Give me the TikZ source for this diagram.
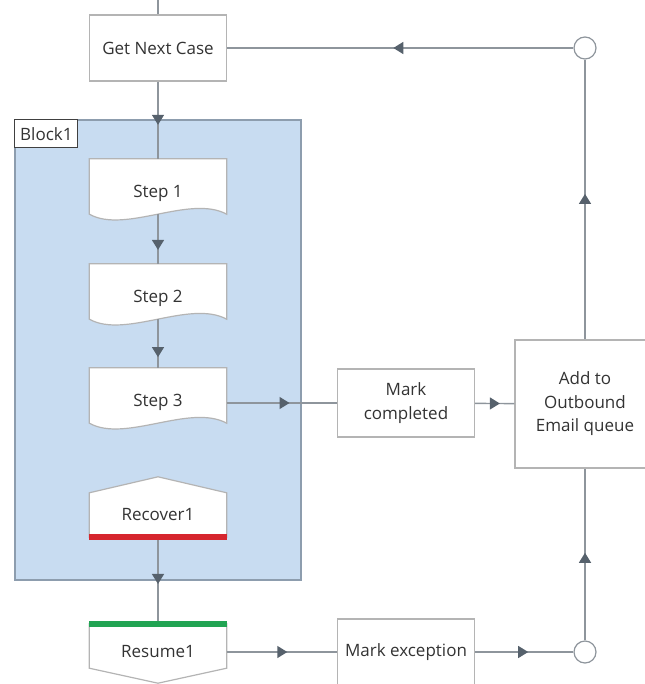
\documentclass[tikz,border=0pt]{standalone}
\usepackage{fontspec}
\setmainfont{Open Sans}
\usetikzlibrary{arrows.meta,decorations.markings}
\usepackage{xcolor}
\definecolor{linegray}{HTML}{8E959C}
\definecolor{tipgray}{HTML}{56616C}
\definecolor{boxline}{HTML}{B4B4B4}
\definecolor{blockfill}{HTML}{C8DCF1}
\definecolor{blockline}{HTML}{8D9DAE}
\definecolor{txtgray}{HTML}{333333}
\definecolor{recred}{HTML}{D6262E}
\definecolor{resgreen}{HTML}{21A453}
\pgfdeclarelayer{back}
\pgfdeclarelayer{shape}
\pgfsetlayers{back,shape,main}

\begin{document}
\begin{tikzpicture}[
    x=1pt, y=-1pt,
    font=\fontsize{17}{23.5}\selectfont, text=txtgray,
    flowbox/.style={draw=boxline, line width=1.2pt, fill=white, minimum width=137pt, minimum height=66pt, align=center, inner sep=2pt},
    steptext/.style={minimum width=137pt, minimum height=55pt, text height=22pt, text depth=0pt, inner sep=0pt},
    recbody/.style={minimum width=137pt, minimum height=44pt, inner sep=0pt},
    stepline/.style={draw=boxline, line width=1.2pt, fill=white},
    blockarea/.style={draw=blockline, line width=1.5pt, fill=blockfill, minimum width=286pt, minimum height=460pt},
    blocklabel/.style={draw=black!75, line width=1.2pt, fill=white, minimum width=63pt, minimum height=28pt, inner sep=1pt},
    joint/.style={circle, draw=linegray, line width=1.2pt, fill=white, minimum size=22pt, inner sep=0pt},
    link/.style={draw=linegray, line width=1.4pt},
    midarrow/.style={link, postaction={decorate}, decoration={markings, mark=at position #1 with {\arrow{Triangle[length=10pt, width=12pt, color=tipgray]}}}},
    midarrow/.default=0.55,
    recbar/.style={draw=recred, line width=6pt},
    resbar/.style={draw=resgreen, line width=6pt}
]
\useasboundingbox (0,0) rectangle (644,684);

% container
\begin{pgfonlayer}{back}
\node[blockarea] (block) at (158,350) {};
\end{pgfonlayer}
\node[blocklabel, anchor=north west] (blocklbl) at (block.north west) {Block1};

% main column
\coordinate (top) at (158,0);
\node[flowbox] (getnext) at (158,48) {Get Next Case};
\node[steptext] (s1) at (158,186.5) {Step 1};
\node[steptext] (s2) at (158,291.5) {Step 2};
\node[steptext] (s3) at (158,395.5) {Step 3};
\node[recbody] (rec) at (158,515) {Recover1};
\node[steptext, minimum height=44pt] (res) at (158,646) {Resume1};

% right side
\node[flowbox, minimum height=68pt] (markc) at (406,403) {Mark\\completed};
\node[flowbox, minimum width=140pt, minimum height=128pt] (addq) at (585,404) {Add to\\Outbound\\Email queue};
\node[flowbox] (markx) at (406,652) {Mark exception};
\node[joint] (ctop) at (585,48) {};
\node[joint] (cbot) at (585,652) {};

% outlines of the stage shapes
\begin{pgfonlayer}{shape}
\foreach \n in {s1,s2,s3}
  \draw[stepline] (\n.south west) -- (\n.north west) -- (\n.north east) -- (\n.south east)
    .. controls +(-37,-20) and +(36,20) .. (\n.south west) -- cycle;
\draw[stepline] (rec.south west) -- (rec.north west) -- ([yshift=16pt]rec.north) -- (rec.north east) -- (rec.south east) -- cycle;
\draw[stepline] (res.north west) -- (res.north east) -- (res.south east) -- ([yshift=-15pt]res.south) -- (res.south west) -- cycle;
\end{pgfonlayer}

\draw[link] (top) -- (getnext);
\draw[midarrow=0.56] (getnext) -- (s1);
\draw[midarrow=0.72] (s1) -- (s2);
\draw[midarrow=0.78] (s2) -- (s3);
\draw[midarrow=0.57] (s3.east |- markc.west) -- (markc.west);
\draw[midarrow=0.63] (markc) -- (addq);
\draw[midarrow=0.52] (addq) -- (ctop);
\draw[midarrow=0.52] (ctop) -- (getnext);
\draw[midarrow=0.54] (rec.south) -- (res.north);
\draw[midarrow=0.55] (res.east |- markx.west) -- (markx.west);
\draw[midarrow=0.54] (markx) -- (cbot);
\draw[midarrow=0.51] (cbot) -- (addq);

\draw[recbar] (rec.south west) -- (rec.south east);
\draw[resbar] (res.north west) -- (res.north east);
\end{tikzpicture}
\end{document}
